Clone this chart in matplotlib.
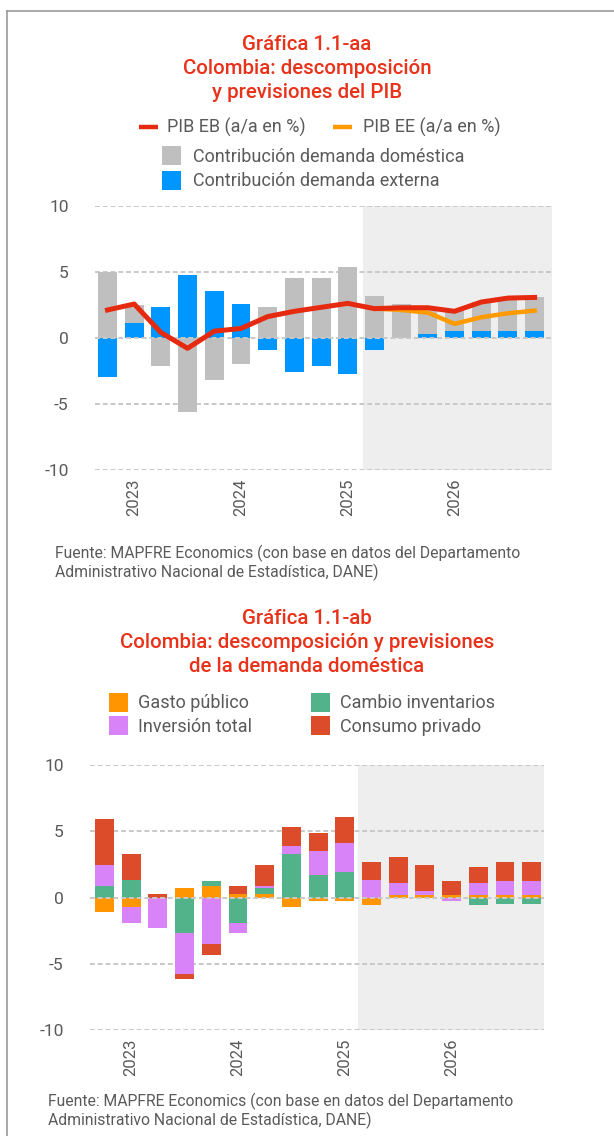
import numpy as np
import matplotlib
matplotlib.use("Agg")
import matplotlib.pyplot as plt
from matplotlib.lines import Line2D
from matplotlib.patches import Rectangle

plt.rcParams['font.family'] = ['Roboto', 'DejaVu Sans']
plt.rcParams['axes.unicode_minus'] = False

# ---- data: top chart (PIB) ----
dom_contrib = [5.0, 2.48, -2.15, -5.6, -3.2, -1.97, 2.32, 4.55, 4.55, 5.35,
               3.16, 2.55, 2.1, 2.0, 2.7, 3.03, 3.1]
ext_contrib = [-2.98, 1.1, 2.32, 4.75, 3.54, 2.55, -0.93, -2.58, -2.12, -2.73,
               -0.93, 0.0, 0.3, 0.5, 0.5, 0.5, 0.5]
pib_eb = [2.1, 2.55, 0.4, -0.8, 0.5, 0.7, 1.6, 2.0, 2.3, 2.6,
          2.2, 2.27, 2.27, 2.0, 2.7, 3.0, 3.05]
pib_ee = [np.nan] * 10 + [2.2, 2.1, 1.9, 1.05, 1.55, 1.85, 2.05]

# ---- data: bottom chart (demanda domestica) ----
gasto = [-1.1, -0.75, 0.0, 0.75, 0.9, 0.25, 0.3, -0.75, -0.3, -0.3,
         -0.53, 0.2, 0.2, 0.2, 0.2, 0.2, 0.2]
inventarios = [0.9, 1.35, 0.0, -2.7, 0.38, -1.95, 0.38, 3.3, 1.73, 1.95,
               0.0, 0.0, 0.0, 0.0, -0.53, -0.5, -0.5]
inversion = [1.58, -1.2, -2.3, -3.08, -3.53, -0.75, 0.22, 0.6, 1.8, 2.18,
             1.35, 0.9, 0.3, -0.3, 0.9, 1.05, 1.05]
consumo = [3.45, 1.95, 0.3, -0.37, -0.82, 0.65, 1.58, 1.43, 1.35, 1.95,
           1.35, 1.95, 1.95, 1.05, 1.2, 1.42, 1.45]

year_ticks = [1, 5, 9, 13]
year_labels = ['2023', '2024', '2025', '2026']
y_ticks = [-10, -5, 0, 5, 10]

# colours
C_TITLE = '#E8321A'
C_TEXT = '#5a5a5a'
C_GRAY = '#BFBFBF'
C_BLUE = '#0096FF'
C_RED_LINE = '#E62A10'
C_ORANGE_LINE = '#FF9A00'
C_GASTO = '#FF9500'
C_INV = '#52B28A'
C_INVERSION = '#D883F8'
C_CONSUMO = '#DC4C2A'
C_SHADE = '#EEEEEE'
C_GRID = '#C8C8C8'

W, H = 614, 1136
fig = plt.figure(figsize=(W / 100, H / 100), dpi=100)
fig.patch.set_facecolor('white')


def fx(px):
    return px / W


def fy(py):
    return 1 - py / H


def style_axes(ax, xlim, shade_from):
    ax.set_xlim(*xlim)
    ax.set_ylim(-10, 10)
    ax.axvspan(shade_from, xlim[1], color=C_SHADE, zorder=0, lw=0)
    for v in y_ticks:
        ax.axhline(v, color=C_GRID, lw=1.4, ls=(0, (2.5, 1.5)),
                   zorder=1 if v != 0 else 5)
    for s in ax.spines.values():
        s.set_visible(False)
    ax.set_yticks(y_ticks)
    ax.set_yticklabels([str(v) for v in y_ticks])
    ax.set_xticks(year_ticks)
    ax.set_xticklabels(year_labels, rotation=90)
    ax.tick_params(axis='y', length=0, pad=19, labelsize=12.5, labelcolor=C_TEXT)
    ax.tick_params(axis='x', length=0, pad=6, labelsize=12, labelcolor=C_TEXT)
    ax.set_facecolor('none')


def legend_line(x0, x1, y, color):
    fig.add_artist(Line2D([fx(x0), fx(x1)], [fy(y), fy(y)],
                          transform=fig.transFigure, color=color, lw=3.2,
                          solid_capstyle='butt'))


def legend_box(x0, y0, color, size=19):
    fig.add_artist(Rectangle((fx(x0), fy(y0 + size)), size / W, size / H,
                             transform=fig.transFigure, color=color, lw=0))


def legend_text(x, y, s):
    fig.text(fx(x), fy(y), s, fontsize=13, color=C_TEXT, va='center', ha='left')


def title_line(y, s):
    fig.text(0.5, fy(y), s, ha='center', va='center', fontsize=14.8,
             color=C_TITLE, fontweight='medium')


def source_note(x, y):
    fig.text(fx(x), fy(y), 'Fuente: MAPFRE Economics (con base en datos del Departamento',
             fontsize=11.3, color=C_TEXT, va='center', ha='left')
    fig.text(fx(x), fy(y + 19), 'Administrativo Nacional de Estadística, DANE)',
             fontsize=11.3, color=C_TEXT, va='center', ha='left')


# frame
fig.add_artist(Line2D([fx(6.5), fx(6.5)], [0, fy(11)], transform=fig.transFigure,
                      color='#999999', lw=1.2))
fig.add_artist(Line2D([fx(6.5), 1], [fy(11), fy(11)], transform=fig.transFigure,
                      color='#999999', lw=1.2))

x = np.arange(len(dom_contrib))
bw = 0.71

# ================= top chart =================
title_line(44, 'Gráfica 1.1-aa')
title_line(68, 'Colombia: descomposición')
title_line(92, 'y previsiones del PIB')

legend_line(139, 158, 127, C_RED_LINE)
legend_text(167, 127, 'PIB EB (a/a en %)')
legend_line(333, 352, 127, C_ORANGE_LINE)
legend_text(363, 127, 'PIB EE (a/a en %)')
legend_box(162, 146, C_GRAY)
legend_text(193, 157, 'Contribución demanda doméstica')
legend_box(162, 171, C_BLUE)
legend_text(193, 181, 'Contribución demanda externa')

ax1 = fig.add_axes([fx(95), fy(470), (552 - 95) / W, (470 - 205.5) / H])
style_axes(ax1, (-0.468, 16.65), 9.56)
ax1.bar(x, dom_contrib, width=bw, color=C_GRAY, zorder=2)
ax1.bar(x, ext_contrib, width=bw, color=C_BLUE, zorder=3)
ax1.plot(x, pib_ee, color=C_ORANGE_LINE, lw=3.2, zorder=6, solid_joinstyle='round')
ax1.plot(x, pib_eb, color=C_RED_LINE, lw=3.6, zorder=7, solid_joinstyle='round')

source_note(55, 553)

# ================= bottom chart =================
title_line(618, 'Gráfica 1.1-ab')
title_line(642, 'Colombia: descomposición y previsiones')
title_line(666, 'de la demanda doméstica')

legend_box(109, 693, C_GASTO)
legend_text(138, 703, 'Gasto público')
legend_box(311, 693, C_INV)
legend_text(340, 703, 'Cambio inventarios')
legend_box(109, 716, C_INVERSION)
legend_text(138, 727, 'Inversión total')
legend_box(311, 716, C_CONSUMO)
legend_text(340, 727, 'Consumo privado')

ax2 = fig.add_axes([fx(90), fy(1030), (544 - 90) / W, (1030 - 765) / H])
style_axes(ax2, (-0.543, 16.46), 9.51)

pos_base = np.zeros(len(x))
neg_base = np.zeros(len(x))
for vals, col in [(gasto, C_GASTO), (inventarios, C_INV),
                  (inversion, C_INVERSION), (consumo, C_CONSUMO)]:
    vals = np.array(vals)
    bottom = np.where(vals >= 0, pos_base, neg_base)
    ax2.bar(x, vals, width=bw, bottom=bottom, color=col, zorder=2)
    pos_base = pos_base + np.where(vals > 0, vals, 0)
    neg_base = neg_base + np.where(vals < 0, vals, 0)

source_note(48, 1101)

fig.savefig('out.png', dpi=100)
